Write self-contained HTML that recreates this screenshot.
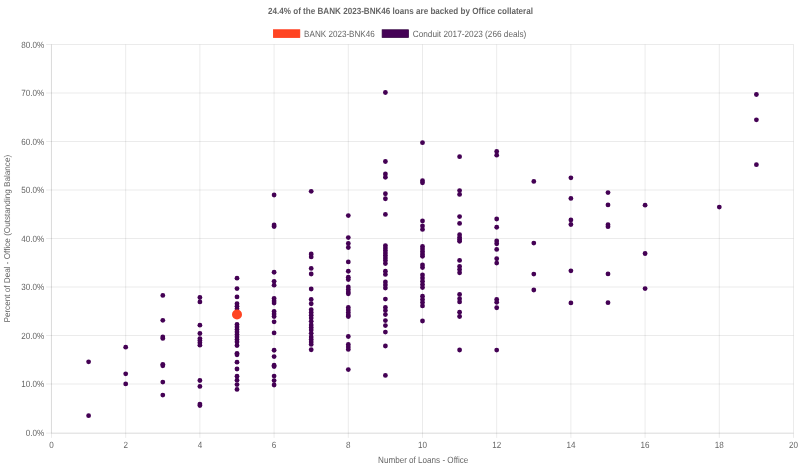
<!DOCTYPE html>
<html><head><meta charset="utf-8"><title>chart</title>
<style>
html,body{margin:0;padding:0;background:#fff;}
svg{display:block;will-change:transform;}
text{text-rendering:geometricPrecision;font-family:"Liberation Sans",sans-serif;fill:#666666;font-size:8.1px;}
</style></head><body>
<svg width="800" height="467" viewBox="0 0 800 467">
<rect x="0" y="0" width="800" height="467" fill="#ffffff"/>
<g stroke="#000" stroke-opacity="0.08" stroke-width="1">
<line x1="51.50" y1="44.50" x2="51.50" y2="437.90"/>
<line x1="125.70" y1="44.50" x2="125.70" y2="437.90"/>
<line x1="199.90" y1="44.50" x2="199.90" y2="437.90"/>
<line x1="274.10" y1="44.50" x2="274.10" y2="437.90"/>
<line x1="348.30" y1="44.50" x2="348.30" y2="437.90"/>
<line x1="422.50" y1="44.50" x2="422.50" y2="437.90"/>
<line x1="496.70" y1="44.50" x2="496.70" y2="437.90"/>
<line x1="570.90" y1="44.50" x2="570.90" y2="437.90"/>
<line x1="645.10" y1="44.50" x2="645.10" y2="437.90"/>
<line x1="719.30" y1="44.50" x2="719.30" y2="437.90"/>
<line x1="793.50" y1="44.50" x2="793.50" y2="437.90"/>
<line x1="46.10" y1="433.15" x2="793.50" y2="433.15"/>
<line x1="46.10" y1="384.00" x2="793.50" y2="384.00"/>
<line x1="46.10" y1="335.50" x2="793.50" y2="335.50"/>
<line x1="46.10" y1="287.00" x2="793.50" y2="287.00"/>
<line x1="46.10" y1="238.50" x2="793.50" y2="238.50"/>
<line x1="46.10" y1="190.00" x2="793.50" y2="190.00"/>
<line x1="46.10" y1="141.50" x2="793.50" y2="141.50"/>
<line x1="46.10" y1="93.00" x2="793.50" y2="93.00"/>
<line x1="46.10" y1="44.50" x2="793.50" y2="44.50"/>
</g>
<g stroke="#000" stroke-opacity="0.075" stroke-width="1">
<line x1="51.40" y1="44.50" x2="51.40" y2="433.20"/>
<line x1="51.50" y1="433.20" x2="793.50" y2="433.20"/>
</g>
<text transform="translate(44.20,435.70) scale(1,1.12)" text-anchor="end">0.0%</text>
<text transform="translate(44.20,387.20) scale(1,1.12)" text-anchor="end">10.0%</text>
<text transform="translate(44.20,338.70) scale(1,1.12)" text-anchor="end">20.0%</text>
<text transform="translate(44.20,290.20) scale(1,1.12)" text-anchor="end">30.0%</text>
<text transform="translate(44.20,241.70) scale(1,1.12)" text-anchor="end">40.0%</text>
<text transform="translate(44.20,193.20) scale(1,1.12)" text-anchor="end">50.0%</text>
<text transform="translate(44.20,144.70) scale(1,1.12)" text-anchor="end">60.0%</text>
<text transform="translate(44.20,96.20) scale(1,1.12)" text-anchor="end">70.0%</text>
<text transform="translate(44.20,47.70) scale(1,1.12)" text-anchor="end">80.0%</text>
<text transform="translate(51.50,447.90) scale(1,1.12)" text-anchor="middle">0</text>
<text transform="translate(125.70,447.90) scale(1,1.12)" text-anchor="middle">2</text>
<text transform="translate(199.90,447.90) scale(1,1.12)" text-anchor="middle">4</text>
<text transform="translate(274.10,447.90) scale(1,1.12)" text-anchor="middle">6</text>
<text transform="translate(348.30,447.90) scale(1,1.12)" text-anchor="middle">8</text>
<text transform="translate(422.50,447.90) scale(1,1.12)" text-anchor="middle">10</text>
<text transform="translate(496.70,447.90) scale(1,1.12)" text-anchor="middle">12</text>
<text transform="translate(570.90,447.90) scale(1,1.12)" text-anchor="middle">14</text>
<text transform="translate(645.10,447.90) scale(1,1.12)" text-anchor="middle">16</text>
<text transform="translate(719.30,447.90) scale(1,1.12)" text-anchor="middle">18</text>
<text transform="translate(793.50,447.90) scale(1,1.12)" text-anchor="middle">20</text>
<text transform="translate(423.20,462.50) scale(1,1.12)" text-anchor="middle">Number of Loans - Office</text>
<text transform="translate(10.40,238.70) rotate(-90) scale(1,1.04)" text-anchor="middle" textLength="167.7" lengthAdjust="spacingAndGlyphs">Percent of Deal - Office (Outstanding Balance)</text>
<text transform="translate(400.50,14.40) scale(1,1.12)" text-anchor="middle" font-weight="bold">24.4% of the BANK 2023-BNK46 loans are backed by Office collateral</text>
<rect x="273.35" y="29.75" width="26.5" height="7.8" fill="#ff4422" stroke="#ff3311" stroke-width="0.7"/>
<text transform="translate(304.10,36.60) scale(1,1.12)">BANK 2023-BNK46</text>
<rect x="382.1" y="29.75" width="26.5" height="7.8" fill="#450256" stroke="#33003f" stroke-width="0.7"/>
<text transform="translate(412.70,36.60) scale(1,1.12)" textLength="113.6" lengthAdjust="spacingAndGlyphs">Conduit 2017-2023 (266 deals)</text>
<g fill="#440154">
<circle cx="88.60" cy="361.80" r="2.4"/>
<circle cx="88.60" cy="415.70" r="2.4"/>
<circle cx="125.70" cy="347.20" r="2.4"/>
<circle cx="125.70" cy="373.80" r="2.4"/>
<circle cx="125.70" cy="383.90" r="2.4"/>
<circle cx="162.80" cy="295.40" r="2.4"/>
<circle cx="162.80" cy="320.30" r="2.4"/>
<circle cx="162.80" cy="336.90" r="2.4"/>
<circle cx="162.80" cy="338.40" r="2.4"/>
<circle cx="162.80" cy="364.30" r="2.4"/>
<circle cx="162.80" cy="365.80" r="2.4"/>
<circle cx="162.80" cy="382.10" r="2.4"/>
<circle cx="162.80" cy="395.10" r="2.4"/>
<circle cx="199.90" cy="297.50" r="2.4"/>
<circle cx="199.90" cy="301.90" r="2.4"/>
<circle cx="199.90" cy="325.20" r="2.4"/>
<circle cx="199.90" cy="333.50" r="2.4"/>
<circle cx="199.90" cy="338.60" r="2.4"/>
<circle cx="199.90" cy="340.60" r="2.4"/>
<circle cx="199.90" cy="342.80" r="2.4"/>
<circle cx="199.90" cy="345.20" r="2.4"/>
<circle cx="199.90" cy="380.50" r="2.4"/>
<circle cx="199.90" cy="386.40" r="2.4"/>
<circle cx="199.90" cy="404.10" r="2.4"/>
<circle cx="199.90" cy="405.60" r="2.4"/>
<circle cx="237.00" cy="278.20" r="2.4"/>
<circle cx="237.00" cy="288.60" r="2.4"/>
<circle cx="237.00" cy="296.90" r="2.4"/>
<circle cx="237.00" cy="303.70" r="2.4"/>
<circle cx="237.00" cy="306.30" r="2.4"/>
<circle cx="237.00" cy="308.80" r="2.4"/>
<circle cx="237.00" cy="324.40" r="2.4"/>
<circle cx="237.00" cy="327.00" r="2.4"/>
<circle cx="237.00" cy="329.50" r="2.4"/>
<circle cx="237.00" cy="332.00" r="2.4"/>
<circle cx="237.00" cy="334.50" r="2.4"/>
<circle cx="237.00" cy="337.00" r="2.4"/>
<circle cx="237.00" cy="339.50" r="2.4"/>
<circle cx="237.00" cy="342.00" r="2.4"/>
<circle cx="237.00" cy="345.50" r="2.4"/>
<circle cx="237.00" cy="353.30" r="2.4"/>
<circle cx="237.00" cy="354.80" r="2.4"/>
<circle cx="237.00" cy="362.20" r="2.4"/>
<circle cx="237.00" cy="369.00" r="2.4"/>
<circle cx="237.00" cy="376.20" r="2.4"/>
<circle cx="237.00" cy="380.20" r="2.4"/>
<circle cx="237.00" cy="384.60" r="2.4"/>
<circle cx="237.00" cy="389.40" r="2.4"/>
<circle cx="274.10" cy="195.00" r="2.4"/>
<circle cx="274.10" cy="225.00" r="2.4"/>
<circle cx="274.10" cy="226.50" r="2.4"/>
<circle cx="274.10" cy="272.25" r="2.4"/>
<circle cx="274.10" cy="281.30" r="2.4"/>
<circle cx="274.10" cy="285.20" r="2.4"/>
<circle cx="274.10" cy="298.50" r="2.4"/>
<circle cx="274.10" cy="301.00" r="2.4"/>
<circle cx="274.10" cy="303.10" r="2.4"/>
<circle cx="274.10" cy="311.50" r="2.4"/>
<circle cx="274.10" cy="314.00" r="2.4"/>
<circle cx="274.10" cy="316.50" r="2.4"/>
<circle cx="274.10" cy="321.80" r="2.4"/>
<circle cx="274.10" cy="332.90" r="2.4"/>
<circle cx="274.10" cy="350.25" r="2.4"/>
<circle cx="274.10" cy="356.60" r="2.4"/>
<circle cx="274.10" cy="365.25" r="2.4"/>
<circle cx="274.10" cy="366.60" r="2.4"/>
<circle cx="274.10" cy="376.10" r="2.4"/>
<circle cx="274.10" cy="380.60" r="2.4"/>
<circle cx="274.10" cy="385.00" r="2.4"/>
<circle cx="311.20" cy="191.30" r="2.4"/>
<circle cx="311.20" cy="254.00" r="2.4"/>
<circle cx="311.20" cy="256.90" r="2.4"/>
<circle cx="311.20" cy="268.40" r="2.4"/>
<circle cx="311.20" cy="274.00" r="2.4"/>
<circle cx="311.20" cy="289.00" r="2.4"/>
<circle cx="311.20" cy="299.40" r="2.4"/>
<circle cx="311.20" cy="303.75" r="2.4"/>
<circle cx="311.20" cy="309.75" r="2.4"/>
<circle cx="311.20" cy="312.50" r="2.4"/>
<circle cx="311.20" cy="315.25" r="2.4"/>
<circle cx="311.20" cy="318.10" r="2.4"/>
<circle cx="311.20" cy="321.30" r="2.4"/>
<circle cx="311.20" cy="325.00" r="2.4"/>
<circle cx="311.20" cy="327.50" r="2.4"/>
<circle cx="311.20" cy="330.00" r="2.4"/>
<circle cx="311.20" cy="333.30" r="2.4"/>
<circle cx="311.20" cy="337.00" r="2.4"/>
<circle cx="311.20" cy="339.50" r="2.4"/>
<circle cx="311.20" cy="342.00" r="2.4"/>
<circle cx="311.20" cy="344.40" r="2.4"/>
<circle cx="311.20" cy="349.75" r="2.4"/>
<circle cx="348.30" cy="215.60" r="2.4"/>
<circle cx="348.30" cy="237.60" r="2.4"/>
<circle cx="348.30" cy="243.50" r="2.4"/>
<circle cx="348.30" cy="247.50" r="2.4"/>
<circle cx="348.30" cy="261.90" r="2.4"/>
<circle cx="348.30" cy="271.25" r="2.4"/>
<circle cx="348.30" cy="277.25" r="2.4"/>
<circle cx="348.30" cy="279.50" r="2.4"/>
<circle cx="348.30" cy="286.90" r="2.4"/>
<circle cx="348.30" cy="289.40" r="2.4"/>
<circle cx="348.30" cy="291.90" r="2.4"/>
<circle cx="348.30" cy="293.75" r="2.4"/>
<circle cx="348.30" cy="307.50" r="2.4"/>
<circle cx="348.30" cy="310.00" r="2.4"/>
<circle cx="348.30" cy="312.50" r="2.4"/>
<circle cx="348.30" cy="315.00" r="2.4"/>
<circle cx="348.30" cy="316.50" r="2.4"/>
<circle cx="348.30" cy="336.50" r="2.4"/>
<circle cx="348.30" cy="344.40" r="2.4"/>
<circle cx="348.30" cy="346.90" r="2.4"/>
<circle cx="348.30" cy="349.40" r="2.4"/>
<circle cx="348.30" cy="369.60" r="2.4"/>
<circle cx="385.40" cy="92.50" r="2.4"/>
<circle cx="385.40" cy="161.50" r="2.4"/>
<circle cx="385.40" cy="174.00" r="2.4"/>
<circle cx="385.40" cy="177.25" r="2.4"/>
<circle cx="385.40" cy="193.75" r="2.4"/>
<circle cx="385.40" cy="198.75" r="2.4"/>
<circle cx="385.40" cy="214.40" r="2.4"/>
<circle cx="385.40" cy="245.60" r="2.4"/>
<circle cx="385.40" cy="248.00" r="2.4"/>
<circle cx="385.40" cy="250.50" r="2.4"/>
<circle cx="385.40" cy="253.00" r="2.4"/>
<circle cx="385.40" cy="255.50" r="2.4"/>
<circle cx="385.40" cy="258.00" r="2.4"/>
<circle cx="385.40" cy="260.50" r="2.4"/>
<circle cx="385.40" cy="263.50" r="2.4"/>
<circle cx="385.40" cy="271.25" r="2.4"/>
<circle cx="385.40" cy="274.40" r="2.4"/>
<circle cx="385.40" cy="281.90" r="2.4"/>
<circle cx="385.40" cy="285.00" r="2.4"/>
<circle cx="385.40" cy="288.10" r="2.4"/>
<circle cx="385.40" cy="299.10" r="2.4"/>
<circle cx="385.40" cy="307.50" r="2.4"/>
<circle cx="385.40" cy="310.60" r="2.4"/>
<circle cx="385.40" cy="314.60" r="2.4"/>
<circle cx="385.40" cy="320.60" r="2.4"/>
<circle cx="385.40" cy="325.60" r="2.4"/>
<circle cx="385.40" cy="332.10" r="2.4"/>
<circle cx="385.40" cy="346.00" r="2.4"/>
<circle cx="385.40" cy="375.40" r="2.4"/>
<circle cx="422.50" cy="142.70" r="2.4"/>
<circle cx="422.50" cy="180.75" r="2.4"/>
<circle cx="422.50" cy="182.75" r="2.4"/>
<circle cx="422.50" cy="220.90" r="2.4"/>
<circle cx="422.50" cy="226.00" r="2.4"/>
<circle cx="422.50" cy="229.40" r="2.4"/>
<circle cx="422.50" cy="246.50" r="2.4"/>
<circle cx="422.50" cy="249.00" r="2.4"/>
<circle cx="422.50" cy="251.50" r="2.4"/>
<circle cx="422.50" cy="254.00" r="2.4"/>
<circle cx="422.50" cy="256.25" r="2.4"/>
<circle cx="422.50" cy="265.00" r="2.4"/>
<circle cx="422.50" cy="267.50" r="2.4"/>
<circle cx="422.50" cy="275.00" r="2.4"/>
<circle cx="422.50" cy="278.10" r="2.4"/>
<circle cx="422.50" cy="281.25" r="2.4"/>
<circle cx="422.50" cy="284.40" r="2.4"/>
<circle cx="422.50" cy="287.50" r="2.4"/>
<circle cx="422.50" cy="296.25" r="2.4"/>
<circle cx="422.50" cy="299.40" r="2.4"/>
<circle cx="422.50" cy="302.50" r="2.4"/>
<circle cx="422.50" cy="305.90" r="2.4"/>
<circle cx="422.50" cy="321.00" r="2.4"/>
<circle cx="459.60" cy="156.70" r="2.4"/>
<circle cx="459.60" cy="190.60" r="2.4"/>
<circle cx="459.60" cy="194.40" r="2.4"/>
<circle cx="459.60" cy="216.60" r="2.4"/>
<circle cx="459.60" cy="223.40" r="2.4"/>
<circle cx="459.60" cy="234.75" r="2.4"/>
<circle cx="459.60" cy="237.50" r="2.4"/>
<circle cx="459.60" cy="239.50" r="2.4"/>
<circle cx="459.60" cy="241.25" r="2.4"/>
<circle cx="459.60" cy="260.40" r="2.4"/>
<circle cx="459.60" cy="266.50" r="2.4"/>
<circle cx="459.60" cy="269.60" r="2.4"/>
<circle cx="459.60" cy="272.75" r="2.4"/>
<circle cx="459.60" cy="294.40" r="2.4"/>
<circle cx="459.60" cy="298.75" r="2.4"/>
<circle cx="459.60" cy="301.90" r="2.4"/>
<circle cx="459.60" cy="312.25" r="2.4"/>
<circle cx="459.60" cy="316.50" r="2.4"/>
<circle cx="459.60" cy="350.00" r="2.4"/>
<circle cx="496.70" cy="151.40" r="2.4"/>
<circle cx="496.70" cy="155.20" r="2.4"/>
<circle cx="496.70" cy="219.00" r="2.4"/>
<circle cx="496.70" cy="227.25" r="2.4"/>
<circle cx="496.70" cy="241.00" r="2.4"/>
<circle cx="496.70" cy="243.75" r="2.4"/>
<circle cx="496.70" cy="249.40" r="2.4"/>
<circle cx="496.70" cy="258.75" r="2.4"/>
<circle cx="496.70" cy="263.10" r="2.4"/>
<circle cx="496.70" cy="299.40" r="2.4"/>
<circle cx="496.70" cy="302.25" r="2.4"/>
<circle cx="496.70" cy="307.75" r="2.4"/>
<circle cx="496.70" cy="350.10" r="2.4"/>
<circle cx="533.80" cy="181.40" r="2.4"/>
<circle cx="533.80" cy="243.10" r="2.4"/>
<circle cx="533.80" cy="274.10" r="2.4"/>
<circle cx="533.80" cy="290.00" r="2.4"/>
<circle cx="570.90" cy="177.80" r="2.4"/>
<circle cx="570.90" cy="198.40" r="2.4"/>
<circle cx="570.90" cy="220.00" r="2.4"/>
<circle cx="570.90" cy="224.50" r="2.4"/>
<circle cx="570.90" cy="270.80" r="2.4"/>
<circle cx="570.90" cy="302.90" r="2.4"/>
<circle cx="608.00" cy="192.60" r="2.4"/>
<circle cx="608.00" cy="204.90" r="2.4"/>
<circle cx="608.00" cy="224.70" r="2.4"/>
<circle cx="608.00" cy="226.70" r="2.4"/>
<circle cx="608.00" cy="273.90" r="2.4"/>
<circle cx="608.00" cy="302.70" r="2.4"/>
<circle cx="645.10" cy="205.20" r="2.4"/>
<circle cx="645.10" cy="253.50" r="2.4"/>
<circle cx="645.10" cy="288.60" r="2.4"/>
<circle cx="719.30" cy="207.10" r="2.4"/>
<circle cx="756.40" cy="94.50" r="2.4"/>
<circle cx="756.40" cy="119.80" r="2.4"/>
<circle cx="756.40" cy="164.70" r="2.4"/>
</g>
<circle cx="237.00" cy="314.5" r="5" fill="#ff4422"/>
</svg>
</body></html>
